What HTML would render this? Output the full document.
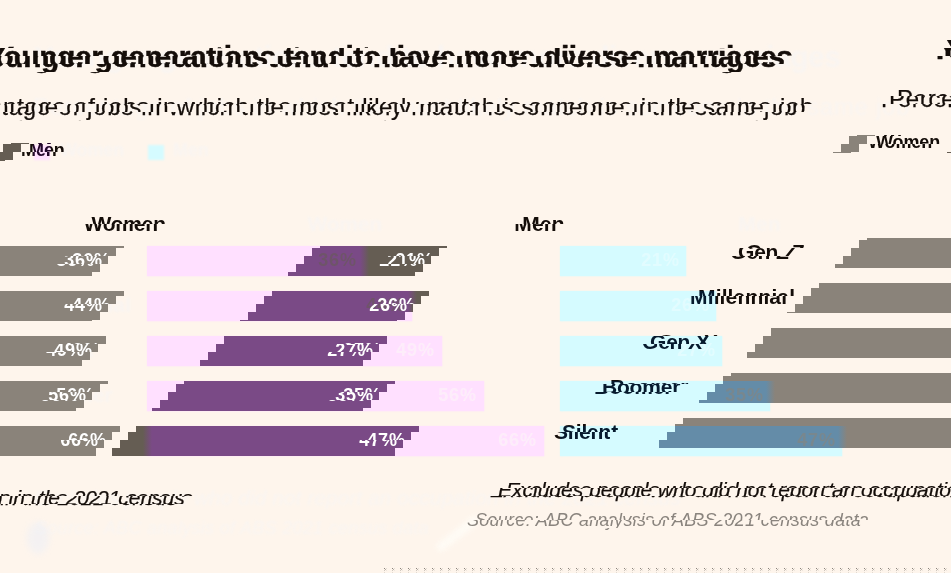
<!DOCTYPE html>
<html lang="en">
<head>
<meta charset="utf-8">
<title>Younger generations tend to have more diverse marriages</title>
<style>
html,body{margin:0;padding:0}
body{width:951px;height:573px;overflow:hidden;background:#fef5ec;position:relative;font-family:"Liberation Sans",Arial,sans-serif}
#chart{position:absolute;left:0;top:0;width:951px;height:573px;overflow:hidden}
#chart div{position:absolute}
.c{overflow:hidden}
.c span,.g{position:absolute;white-space:nowrap;display:block}
</style>
</head>
<body>
<div id="chart">
<!-- chroma plane (not displaced) -->
<div style="left:34px;top:144.5px;width:16px;height:15px;background:#ffe0ff;filter:blur(1px)"></div>
<div style="left:148px;top:144.5px;width:16px;height:15px;background:#d5fbff;filter:blur(1px)"></div>
<div style="left:147px;top:246.2px;width:217px;height:29.4px;background:#ffe0ff;box-shadow:0 0 1.5px .5px #ffe0ff"></div>
<div style="left:560px;top:246.2px;width:126px;height:29.4px;background:#d5fbff;box-shadow:0 0 1.5px .5px #d5fbff"></div>
<div style="left:147px;top:291.2px;width:265px;height:29.4px;background:#ffe0ff;box-shadow:0 0 1.5px .5px #ffe0ff"></div>
<div style="left:560px;top:291.2px;width:156px;height:29.4px;background:#d5fbff;box-shadow:0 0 1.5px .5px #d5fbff"></div>
<div style="left:147px;top:336.2px;width:295px;height:29.4px;background:#ffe0ff;box-shadow:0 0 1.5px .5px #ffe0ff"></div>
<div style="left:560px;top:336.2px;width:162px;height:29.4px;background:#d5fbff;box-shadow:0 0 1.5px .5px #d5fbff"></div>
<div style="left:147px;top:381.2px;width:337px;height:29.4px;background:#ffe0ff;box-shadow:0 0 1.5px .5px #ffe0ff"></div>
<div style="left:560px;top:381.2px;width:210px;height:29.4px;background:#d5fbff;box-shadow:0 0 1.5px .5px #d5fbff"></div>
<div style="left:147px;top:426.2px;width:397px;height:29.4px;background:#ffe0ff;box-shadow:0 0 1.5px .5px #ffe0ff"></div>
<div style="left:560px;top:426.2px;width:282px;height:29.4px;background:#d5fbff;box-shadow:0 0 1.5px .5px #d5fbff"></div>
<div class="g" style="left:318.17px;top:247.56px;line-height:24px;height:24px;font-size:18px;color:#fdf6f8;font-weight:bold;letter-spacing:0.9px;opacity:.62;filter:blur(.7px);">36%</div>
<div class="g" style="left:641.17px;top:247.56px;line-height:24px;height:24px;font-size:18px;color:#f6feff;font-weight:bold;letter-spacing:0.9px;opacity:.4;filter:blur(.7px);">21%</div>
<div class="g" style="left:366.17px;top:292.56px;line-height:24px;height:24px;font-size:18px;color:#fdf6f8;font-weight:bold;letter-spacing:0.9px;opacity:.62;filter:blur(.7px);">44%</div>
<div class="g" style="left:671.17px;top:292.56px;line-height:24px;height:24px;font-size:18px;color:#f6feff;font-weight:bold;letter-spacing:0.9px;opacity:.4;filter:blur(.7px);">26%</div>
<div class="g" style="left:396.17px;top:337.56px;line-height:24px;height:24px;font-size:18px;color:#fdf6f8;font-weight:bold;letter-spacing:0.9px;opacity:.62;filter:blur(.7px);">49%</div>
<div class="g" style="left:677.17px;top:337.56px;line-height:24px;height:24px;font-size:18px;color:#f6feff;font-weight:bold;letter-spacing:0.9px;opacity:.4;filter:blur(.7px);">27%</div>
<div class="g" style="left:438.17px;top:382.56px;line-height:24px;height:24px;font-size:18px;color:#fdf6f8;font-weight:bold;letter-spacing:0.9px;opacity:.62;filter:blur(.7px);">56%</div>
<div class="g" style="left:725.17px;top:382.56px;line-height:24px;height:24px;font-size:18px;color:#f6feff;font-weight:bold;letter-spacing:0.9px;opacity:.4;filter:blur(.7px);">35%</div>
<div class="g" style="left:498.17px;top:427.56px;line-height:24px;height:24px;font-size:18px;color:#fdf6f8;font-weight:bold;letter-spacing:0.9px;opacity:.62;filter:blur(.7px);">66%</div>
<div class="g" style="left:797.17px;top:427.56px;line-height:24px;height:24px;font-size:18px;color:#f6feff;font-weight:bold;letter-spacing:0.9px;opacity:.4;filter:blur(.7px);">47%</div>
<div class="g" style="left:34px;top:246.02px;line-height:28px;height:28px;font-size:21px;color:#eef5ff;font-weight:bold;letter-spacing:-0.2px;opacity:.3;filter:blur(1.2px);">Gen Z</div>
<div class="g" style="left:34px;top:291.02px;line-height:28px;height:28px;font-size:21px;color:#eef5ff;font-weight:bold;letter-spacing:0.15px;opacity:.3;filter:blur(1.2px);">Millennial</div>
<div class="g" style="left:34px;top:336.02px;line-height:28px;height:28px;font-size:21px;color:#eef5ff;font-weight:bold;letter-spacing:-0.2px;opacity:.3;filter:blur(1.2px);">Gen X</div>
<div class="g" style="left:34px;top:381.02px;line-height:28px;height:28px;font-size:21px;color:#eef5ff;font-weight:bold;letter-spacing:-0.2px;opacity:.3;filter:blur(1.2px);">Boomer</div>
<div class="g" style="left:34px;top:426.02px;line-height:28px;height:28px;font-size:21px;color:#eef5ff;font-weight:bold;letter-spacing:-0.2px;opacity:.3;filter:blur(1.2px);">Silent</div>
<div class="g" style="left:34px;top:36.7px;line-height:39px;height:39px;font-size:30px;color:#eef5ff;font-weight:bold;letter-spacing:-0.42px;opacity:.3;filter:blur(1.2px);">Younger generations tend to have more diverse marriages</div>
<div class="g" style="left:33px;top:91.28px;line-height:32px;height:32px;font-size:24px;color:#eef5ff;letter-spacing:0.71px;opacity:.3;filter:blur(1.2px);">Percentage of jobs in which the most likely match is someone in the same job</div>
<div class="g" style="left:60px;top:138.36px;line-height:24px;height:24px;font-size:18px;color:#eef5ff;font-weight:bold;letter-spacing:-0.1px;opacity:.3;filter:blur(1.2px);">Women</div>
<div class="g" style="left:173px;top:138.36px;line-height:24px;height:24px;font-size:18px;color:#eef5ff;font-weight:bold;letter-spacing:-0.1px;opacity:.3;filter:blur(1.2px);">Men</div>
<div class="g" style="left:307.5px;top:209.52px;line-height:28px;height:28px;font-size:21px;color:#eef5ff;font-weight:bold;letter-spacing:-0.2px;opacity:.3;filter:blur(1.2px);">Women</div>
<div class="g" style="left:738.3px;top:209.52px;line-height:28px;height:28px;font-size:21px;color:#eef5ff;font-weight:bold;letter-spacing:0.1px;opacity:.3;filter:blur(1.2px);">Men</div>
<div class="g" style="left:34px;top:484.12px;line-height:28px;height:28px;font-size:21px;color:#eef5ff;font-style:italic;opacity:.3;filter:blur(1.2px);">Excludes people who did not report an occupation in the 2021 census</div>
<div class="g" style="left:35px;top:515.96px;line-height:24px;height:24px;font-size:18px;color:#eef5ff;font-style:italic;letter-spacing:0.3px;opacity:.3;filter:blur(1.2px);">Source: ABC analysis of ABS 2021 census data</div>
<div style="left:27px;top:522px;width:22px;height:32px;border-radius:50%;background:#e6edfb;opacity:.4;filter:blur(3px)"></div>
<div style="left:432px;top:529px;width:52px;height:9px;border-radius:5px;background:#fffdf8;opacity:.8;filter:blur(2.5px);transform:rotate(-38deg)"></div>
<!-- luma plane, displaced one 8px block per 8px band -->
<div style="left:857px;top:135px;width:18px;height:1px;background:#8a837a"></div>
<div style="left:849px;top:136px;width:18px;height:8px;background:#8a837a"></div>
<div style="left:841px;top:144px;width:18px;height:8px;background:#8a837a"></div>
<div style="left:833px;top:152px;width:18px;height:0.5px;background:#8a837a"></div>
<div style="left:11px;top:143px;width:18px;height:1px;background:#655d53"></div>
<div style="left:3px;top:144px;width:18px;height:8px;background:#655d53"></div>
<div style="left:0px;top:152px;width:13px;height:8px;background:#655d53"></div>
<div style="left:0px;top:160px;width:5px;height:0.5px;background:#655d53"></div>
<div style="left:947px;top:152px;width:4px;height:0.5px;background:#655d53"></div>
<div style="left:0px;top:246.2px;width:124px;height:1.8px;background:#8a837a"></div>
<div style="left:867px;top:238.2px;width:84px;height:1.8px;background:#8a837a"></div>
<div style="left:0px;top:248px;width:116px;height:8px;background:#8a837a"></div>
<div style="left:859px;top:240px;width:92px;height:8px;background:#8a837a"></div>
<div style="left:0px;top:256px;width:108px;height:8px;background:#8a837a"></div>
<div style="left:851px;top:248px;width:100px;height:8px;background:#8a837a"></div>
<div style="left:0px;top:264px;width:100px;height:8px;background:#8a837a"></div>
<div style="left:843px;top:256px;width:108px;height:8px;background:#8a837a"></div>
<div style="left:0px;top:272px;width:92px;height:3.6px;background:#8a837a"></div>
<div style="left:835px;top:264px;width:116px;height:3.6px;background:#8a837a"></div>
<div style="left:320px;top:246.2px;width:44px;height:1.8px;background:#7a4a86"></div>
<div style="left:364px;top:246.2px;width:83px;height:1.8px;background:#655d53"></div>
<div style="left:359.5px;top:246.2px;width:9px;height:1.8px;background:linear-gradient(90deg,#7a4a86,#655d53)"></div>
<div style="left:312px;top:248px;width:52px;height:8px;background:#7a4a86"></div>
<div style="left:364px;top:248px;width:75px;height:8px;background:#655d53"></div>
<div style="left:359.5px;top:248px;width:9px;height:8px;background:linear-gradient(90deg,#7a4a86,#655d53)"></div>
<div style="left:304px;top:256px;width:60px;height:8px;background:#7a4a86"></div>
<div style="left:364px;top:256px;width:67px;height:8px;background:#655d53"></div>
<div style="left:359.5px;top:256px;width:9px;height:8px;background:linear-gradient(90deg,#7a4a86,#655d53)"></div>
<div style="left:296px;top:264px;width:68px;height:8px;background:#7a4a86"></div>
<div style="left:364px;top:264px;width:59px;height:8px;background:#655d53"></div>
<div style="left:359.5px;top:264px;width:9px;height:8px;background:linear-gradient(90deg,#7a4a86,#655d53)"></div>
<div style="left:288px;top:272px;width:76px;height:3.6px;background:#7a4a86"></div>
<div style="left:364px;top:272px;width:51px;height:3.6px;background:#655d53"></div>
<div style="left:359.5px;top:272px;width:9px;height:3.6px;background:linear-gradient(90deg,#7a4a86,#655d53)"></div>
<div style="left:0px;top:291.2px;width:124px;height:4.8px;background:#8a837a"></div>
<div style="left:819px;top:283.2px;width:132px;height:4.8px;background:#8a837a"></div>
<div style="left:0px;top:296px;width:116px;height:8px;background:#8a837a"></div>
<div style="left:811px;top:288px;width:140px;height:8px;background:#8a837a"></div>
<div style="left:0px;top:304px;width:108px;height:8px;background:#8a837a"></div>
<div style="left:803px;top:296px;width:148px;height:8px;background:#8a837a"></div>
<div style="left:0px;top:312px;width:100px;height:8px;background:#8a837a"></div>
<div style="left:795px;top:304px;width:156px;height:8px;background:#8a837a"></div>
<div style="left:0px;top:320px;width:92px;height:0.6px;background:#8a837a"></div>
<div style="left:787px;top:312px;width:164px;height:0.6px;background:#8a837a"></div>
<div style="left:272px;top:291.2px;width:140px;height:4.8px;background:#7a4a86"></div>
<div style="left:412px;top:291.2px;width:17px;height:4.8px;background:#655d53"></div>
<div style="left:407.5px;top:291.2px;width:9px;height:4.8px;background:linear-gradient(90deg,#7a4a86,#655d53)"></div>
<div style="left:264px;top:296px;width:148px;height:8px;background:#7a4a86"></div>
<div style="left:412px;top:296px;width:9px;height:8px;background:#655d53"></div>
<div style="left:407.5px;top:296px;width:9px;height:8px;background:linear-gradient(90deg,#7a4a86,#655d53)"></div>
<div style="left:256px;top:304px;width:156px;height:8px;background:#7a4a86"></div>
<div style="left:412px;top:304px;width:1px;height:8px;background:#655d53"></div>
<div style="left:407.5px;top:304px;width:5.5px;height:8px;background:linear-gradient(90deg,#7a4a86,#655d53)"></div>
<div style="left:248px;top:312px;width:157px;height:8px;background:#7a4a86"></div>
<div style="left:240px;top:320px;width:157px;height:0.6px;background:#7a4a86"></div>
<div style="left:0px;top:336.2px;width:106px;height:7.8px;background:#8a837a"></div>
<div style="left:771px;top:328.2px;width:180px;height:7.8px;background:#8a837a"></div>
<div style="left:0px;top:344px;width:98px;height:8px;background:#8a837a"></div>
<div style="left:763px;top:336px;width:188px;height:8px;background:#8a837a"></div>
<div style="left:0px;top:352px;width:90px;height:8px;background:#8a837a"></div>
<div style="left:755px;top:344px;width:196px;height:8px;background:#8a837a"></div>
<div style="left:0px;top:360px;width:82px;height:5.6px;background:#8a837a"></div>
<div style="left:747px;top:352px;width:204px;height:5.6px;background:#8a837a"></div>
<div style="left:224px;top:336.2px;width:163px;height:7.8px;background:#7a4a86"></div>
<div style="left:216px;top:344px;width:163px;height:8px;background:#7a4a86"></div>
<div style="left:208px;top:352px;width:163px;height:8px;background:#7a4a86"></div>
<div style="left:200px;top:360px;width:163px;height:5.6px;background:#7a4a86"></div>
<div style="left:0px;top:381.2px;width:108px;height:2.8px;background:#8a837a"></div>
<div style="left:731px;top:373.2px;width:220px;height:2.8px;background:#8a837a"></div>
<div style="left:0px;top:384px;width:100px;height:8px;background:#8a837a"></div>
<div style="left:723px;top:376px;width:228px;height:5.2px;background:#8a837a"></div>
<div style="left:723px;top:381.2px;width:47px;height:2.8px;background:#648ca8"></div>
<div style="left:770px;top:381.2px;width:181px;height:2.8px;background:#8a837a"></div>
<div style="left:765.5px;top:381.2px;width:9px;height:2.8px;background:linear-gradient(90deg,#648ca8,#8a837a)"></div>
<div style="left:0px;top:392px;width:92px;height:8px;background:#8a837a"></div>
<div style="left:715px;top:384px;width:55px;height:8px;background:#648ca8"></div>
<div style="left:770px;top:384px;width:181px;height:8px;background:#8a837a"></div>
<div style="left:765.5px;top:384px;width:9px;height:8px;background:linear-gradient(90deg,#648ca8,#8a837a)"></div>
<div style="left:0px;top:400px;width:84px;height:8px;background:#8a837a"></div>
<div style="left:707px;top:392px;width:63px;height:8px;background:#648ca8"></div>
<div style="left:770px;top:392px;width:181px;height:8px;background:#8a837a"></div>
<div style="left:765.5px;top:392px;width:9px;height:8px;background:linear-gradient(90deg,#648ca8,#8a837a)"></div>
<div style="left:0px;top:408px;width:76px;height:2.6px;background:#8a837a"></div>
<div style="left:699px;top:400px;width:71px;height:2.6px;background:#648ca8"></div>
<div style="left:770px;top:400px;width:181px;height:2.6px;background:#8a837a"></div>
<div style="left:765.5px;top:400px;width:9px;height:2.6px;background:linear-gradient(90deg,#648ca8,#8a837a)"></div>
<div style="left:184px;top:381.2px;width:211px;height:2.8px;background:#7a4a86"></div>
<div style="left:176px;top:384px;width:211px;height:8px;background:#7a4a86"></div>
<div style="left:168px;top:392px;width:211px;height:8px;background:#7a4a86"></div>
<div style="left:160px;top:400px;width:211px;height:8px;background:#7a4a86"></div>
<div style="left:152px;top:408px;width:211px;height:2.6px;background:#7a4a86"></div>
<div style="left:0px;top:426.2px;width:120px;height:5.8px;background:#8a837a"></div>
<div style="left:683px;top:418.2px;width:268px;height:5.8px;background:#8a837a"></div>
<div style="left:0px;top:432px;width:112px;height:8px;background:#8a837a"></div>
<div style="left:675px;top:424px;width:276px;height:2.2px;background:#8a837a"></div>
<div style="left:675px;top:426.2px;width:167px;height:5.8px;background:#648ca8"></div>
<div style="left:842px;top:426.2px;width:109px;height:5.8px;background:#8a837a"></div>
<div style="left:837.5px;top:426.2px;width:9px;height:5.8px;background:linear-gradient(90deg,#648ca8,#8a837a)"></div>
<div style="left:0px;top:440px;width:104px;height:8px;background:#8a837a"></div>
<div style="left:667px;top:432px;width:175px;height:8px;background:#648ca8"></div>
<div style="left:842px;top:432px;width:109px;height:8px;background:#8a837a"></div>
<div style="left:837.5px;top:432px;width:9px;height:8px;background:linear-gradient(90deg,#648ca8,#8a837a)"></div>
<div style="left:0px;top:448px;width:96px;height:7.6px;background:#8a837a"></div>
<div style="left:659px;top:440px;width:183px;height:7.6px;background:#648ca8"></div>
<div style="left:842px;top:440px;width:109px;height:7.6px;background:#8a837a"></div>
<div style="left:837.5px;top:440px;width:9px;height:7.6px;background:linear-gradient(90deg,#648ca8,#8a837a)"></div>
<div style="left:136px;top:426.2px;width:11px;height:5.8px;background:#655d53"></div>
<div style="left:147px;top:426.2px;width:272px;height:5.8px;background:#7a4a86"></div>
<div style="left:142.5px;top:426.2px;width:9px;height:5.8px;background:linear-gradient(90deg,#655d53,#7a4a86)"></div>
<div style="left:128px;top:432px;width:19px;height:8px;background:#655d53"></div>
<div style="left:147px;top:432px;width:264px;height:8px;background:#7a4a86"></div>
<div style="left:142.5px;top:432px;width:9px;height:8px;background:linear-gradient(90deg,#655d53,#7a4a86)"></div>
<div style="left:120px;top:440px;width:27px;height:8px;background:#655d53"></div>
<div style="left:147px;top:440px;width:256px;height:8px;background:#7a4a86"></div>
<div style="left:142.5px;top:440px;width:9px;height:8px;background:linear-gradient(90deg,#655d53,#7a4a86)"></div>
<div style="left:112px;top:448px;width:35px;height:7.6px;background:#655d53"></div>
<div style="left:147px;top:448px;width:248px;height:7.6px;background:#7a4a86"></div>
<div style="left:142.5px;top:448px;width:9px;height:7.6px;background:linear-gradient(90deg,#655d53,#7a4a86)"></div>
<div class="c" style="left:317.17px;top:251.76px;width:39.83px;height:4.24px"><span style="left:1px;top:-4.2px;line-height:24px;height:24px;font-size:18px;color:#655d53;font-weight:bold;letter-spacing:0.9px;opacity:.55;filter:blur(.6px);">36%</span></div>
<div class="c" style="left:317.17px;top:256px;width:39.83px;height:8px"><span style="left:1px;top:-8.44px;line-height:24px;height:24px;font-size:18px;color:#655d53;font-weight:bold;letter-spacing:0.9px;opacity:.55;filter:blur(.6px);">36%</span></div>
<div class="c" style="left:317.17px;top:264px;width:39.83px;height:2.7px"><span style="left:1px;top:-16.44px;line-height:24px;height:24px;font-size:18px;color:#655d53;font-weight:bold;letter-spacing:0.9px;opacity:.55;filter:blur(.6px);">36%</span></div>
<div class="c" style="left:365.17px;top:296.76px;width:39.83px;height:7.24px"><span style="left:1px;top:-4.2px;line-height:24px;height:24px;font-size:18px;color:#655d53;font-weight:bold;letter-spacing:0.9px;opacity:.55;filter:blur(.6px);">44%</span></div>
<div class="c" style="left:365.17px;top:304px;width:39.83px;height:7.7px"><span style="left:1px;top:-11.44px;line-height:24px;height:24px;font-size:18px;color:#655d53;font-weight:bold;letter-spacing:0.9px;opacity:.55;filter:blur(.6px);">44%</span></div>
<div class="c" style="left:724.17px;top:386.76px;width:39.83px;height:5.24px"><span style="left:1px;top:-4.2px;line-height:24px;height:24px;font-size:18px;color:#8a837a;font-weight:bold;letter-spacing:0.9px;opacity:.55;filter:blur(.6px);">35%</span></div>
<div class="c" style="left:724.17px;top:392px;width:39.83px;height:8px"><span style="left:1px;top:-9.44px;line-height:24px;height:24px;font-size:18px;color:#8a837a;font-weight:bold;letter-spacing:0.9px;opacity:.55;filter:blur(.6px);">35%</span></div>
<div class="c" style="left:724.17px;top:400px;width:39.83px;height:1.7px"><span style="left:1px;top:-17.44px;line-height:24px;height:24px;font-size:18px;color:#8a837a;font-weight:bold;letter-spacing:0.9px;opacity:.55;filter:blur(.6px);">35%</span></div>
<div class="c" style="left:796.17px;top:432px;width:39.83px;height:8px"><span style="left:1px;top:-4.44px;line-height:24px;height:24px;font-size:18px;color:#8a837a;font-weight:bold;letter-spacing:0.9px;opacity:.55;filter:blur(.6px);">47%</span></div>
<div class="c" style="left:796.17px;top:440px;width:39.83px;height:6.7px"><span style="left:1px;top:-12.44px;line-height:24px;height:24px;font-size:18px;color:#8a837a;font-weight:bold;letter-spacing:0.9px;opacity:.55;filter:blur(.6px);">47%</span></div>
<div class="c" style="left:743px;top:242.5px;width:64.72px;height:5.5px"><span style="left:3px;top:-4.48px;line-height:28px;height:28px;font-size:21px;color:#140d09;font-weight:bold;letter-spacing:-0.2px;">Gen Z</span></div>
<div class="c" style="left:735px;top:248px;width:64.72px;height:8px"><span style="left:3px;top:-9.98px;line-height:28px;height:28px;font-size:21px;color:#140d09;font-weight:bold;letter-spacing:-0.2px;">Gen Z</span></div>
<div class="c" style="left:727px;top:256px;width:64.72px;height:8px"><span style="left:3px;top:-17.98px;line-height:28px;height:28px;font-size:21px;color:#140d09;font-weight:bold;letter-spacing:-0.2px;">Gen Z</span></div>
<div class="c" style="left:719px;top:264px;width:64.72px;height:0.34px"><span style="left:3px;top:-25.98px;line-height:28px;height:28px;font-size:21px;color:#140d09;font-weight:bold;letter-spacing:-0.2px;">Gen Z</span></div>
<div class="c" style="left:69.17px;top:251.4px;width:43.83px;height:4.6px"><span style="left:3px;top:-3.84px;line-height:24px;height:24px;font-size:18px;color:#fff;font-weight:bold;letter-spacing:0.9px;">36%</span></div>
<div class="c" style="left:61.17px;top:256px;width:43.83px;height:8px"><span style="left:3px;top:-8.44px;line-height:24px;height:24px;font-size:18px;color:#fff;font-weight:bold;letter-spacing:0.9px;">36%</span></div>
<div class="c" style="left:53.17px;top:264px;width:43.83px;height:6.12px"><span style="left:3px;top:-16.44px;line-height:24px;height:24px;font-size:18px;color:#fff;font-weight:bold;letter-spacing:0.9px;">36%</span></div>
<div class="c" style="left:392.17px;top:251.4px;width:43.83px;height:4.6px"><span style="left:3px;top:-3.84px;line-height:24px;height:24px;font-size:18px;color:#fff;font-weight:bold;letter-spacing:0.9px;">21%</span></div>
<div class="c" style="left:384.17px;top:256px;width:43.83px;height:8px"><span style="left:3px;top:-8.44px;line-height:24px;height:24px;font-size:18px;color:#fff;font-weight:bold;letter-spacing:0.9px;">21%</span></div>
<div class="c" style="left:376.17px;top:264px;width:43.83px;height:6.12px"><span style="left:3px;top:-16.44px;line-height:24px;height:24px;font-size:18px;color:#fff;font-weight:bold;letter-spacing:0.9px;">21%</span></div>
<div class="c" style="left:703px;top:287.5px;width:103.04px;height:0.5px"><span style="left:3px;top:-4.48px;line-height:28px;height:28px;font-size:21px;color:#140d09;font-weight:bold;letter-spacing:0.15px;">Millennial</span></div>
<div class="c" style="left:695px;top:288px;width:103.04px;height:3.2px"><span style="left:3px;top:-4.98px;line-height:28px;height:28px;font-size:21px;color:#140d09;font-weight:bold;letter-spacing:0.15px;">Millennial</span></div>
<div class="c" style="left:695px;top:291.2px;width:21px;height:4.8px"><span style="left:3px;top:-8.18px;line-height:28px;height:28px;font-size:21px;color:#061a2e;font-weight:bold;letter-spacing:0.15px;">Millennial</span></div>
<div class="c" style="left:716px;top:291.2px;width:82.04px;height:4.8px"><span style="left:-18px;top:-8.18px;line-height:28px;height:28px;font-size:21px;color:#140d09;font-weight:bold;letter-spacing:0.15px;">Millennial</span></div>
<div class="c" style="left:687px;top:296px;width:29px;height:8px"><span style="left:3px;top:-12.98px;line-height:28px;height:28px;font-size:21px;color:#061a2e;font-weight:bold;letter-spacing:0.15px;">Millennial</span></div>
<div class="c" style="left:716px;top:296px;width:74.04px;height:8px"><span style="left:-26px;top:-12.98px;line-height:28px;height:28px;font-size:21px;color:#140d09;font-weight:bold;letter-spacing:0.15px;">Millennial</span></div>
<div class="c" style="left:679px;top:304px;width:37px;height:5.34px"><span style="left:3px;top:-20.98px;line-height:28px;height:28px;font-size:21px;color:#061a2e;font-weight:bold;letter-spacing:0.15px;">Millennial</span></div>
<div class="c" style="left:716px;top:304px;width:66.04px;height:5.34px"><span style="left:-34px;top:-20.98px;line-height:28px;height:28px;font-size:21px;color:#140d09;font-weight:bold;letter-spacing:0.15px;">Millennial</span></div>
<div class="c" style="left:69.17px;top:296.4px;width:43.83px;height:7.6px"><span style="left:3px;top:-3.84px;line-height:24px;height:24px;font-size:18px;color:#fff;font-weight:bold;letter-spacing:0.9px;">44%</span></div>
<div class="c" style="left:61.17px;top:304px;width:43.83px;height:8px"><span style="left:3px;top:-11.44px;line-height:24px;height:24px;font-size:18px;color:#fff;font-weight:bold;letter-spacing:0.9px;">44%</span></div>
<div class="c" style="left:53.17px;top:312px;width:43.83px;height:3.12px"><span style="left:3px;top:-19.44px;line-height:24px;height:24px;font-size:18px;color:#fff;font-weight:bold;letter-spacing:0.9px;">44%</span></div>
<div class="c" style="left:374.17px;top:296.4px;width:37.83px;height:7.6px"><span style="left:3px;top:-3.84px;line-height:24px;height:24px;font-size:18px;color:#fff;font-weight:bold;letter-spacing:0.9px;">26%</span></div>
<div class="c" style="left:412px;top:296.4px;width:6px;height:7.6px"><span style="left:-34.83px;top:-3.84px;line-height:24px;height:24px;font-size:18px;color:#fff;font-weight:bold;letter-spacing:0.9px;">26%</span></div>
<div class="c" style="left:366.17px;top:304px;width:43.83px;height:8px"><span style="left:3px;top:-11.44px;line-height:24px;height:24px;font-size:18px;color:#fff;font-weight:bold;letter-spacing:0.9px;">26%</span></div>
<div class="c" style="left:358.17px;top:312px;width:43.83px;height:3.12px"><span style="left:3px;top:-19.44px;line-height:24px;height:24px;font-size:18px;color:#fff;font-weight:bold;letter-spacing:0.9px;">26%</span></div>
<div class="c" style="left:655px;top:332.5px;width:65.89px;height:3.5px"><span style="left:3px;top:-4.48px;line-height:28px;height:28px;font-size:21px;color:#140d09;font-weight:bold;letter-spacing:-0.2px;">Gen X</span></div>
<div class="c" style="left:647px;top:336.2px;width:65.89px;height:7.8px"><span style="left:3px;top:-8.18px;line-height:28px;height:28px;font-size:21px;color:#061a2e;font-weight:bold;letter-spacing:-0.2px;">Gen X</span></div>
<div class="c" style="left:639px;top:344px;width:65.89px;height:8px"><span style="left:3px;top:-15.98px;line-height:28px;height:28px;font-size:21px;color:#061a2e;font-weight:bold;letter-spacing:-0.2px;">Gen X</span></div>
<div class="c" style="left:631px;top:352px;width:65.89px;height:2.34px"><span style="left:3px;top:-23.98px;line-height:28px;height:28px;font-size:21px;color:#061a2e;font-weight:bold;letter-spacing:-0.2px;">Gen X</span></div>
<div class="c" style="left:59.17px;top:341.4px;width:43.83px;height:2.6px"><span style="left:3px;top:-3.84px;line-height:24px;height:24px;font-size:18px;color:#fff;font-weight:bold;letter-spacing:0.9px;">49%</span></div>
<div class="c" style="left:51.17px;top:344px;width:43.83px;height:8px"><span style="left:3px;top:-6.44px;line-height:24px;height:24px;font-size:18px;color:#fff;font-weight:bold;letter-spacing:0.9px;">49%</span></div>
<div class="c" style="left:43.17px;top:352px;width:43.83px;height:8px"><span style="left:3px;top:-14.44px;line-height:24px;height:24px;font-size:18px;color:#fff;font-weight:bold;letter-spacing:0.9px;">49%</span></div>
<div class="c" style="left:340.17px;top:341.4px;width:43.83px;height:2.6px"><span style="left:3px;top:-3.84px;line-height:24px;height:24px;font-size:18px;color:#fff;font-weight:bold;letter-spacing:0.9px;">27%</span></div>
<div class="c" style="left:332.17px;top:344px;width:43.83px;height:8px"><span style="left:3px;top:-6.44px;line-height:24px;height:24px;font-size:18px;color:#fff;font-weight:bold;letter-spacing:0.9px;">27%</span></div>
<div class="c" style="left:324.17px;top:352px;width:43.83px;height:8px"><span style="left:3px;top:-14.44px;line-height:24px;height:24px;font-size:18px;color:#fff;font-weight:bold;letter-spacing:0.9px;">27%</span></div>
<div class="c" style="left:607px;top:377.5px;width:84.36px;height:3.7px"><span style="left:3px;top:-4.48px;line-height:28px;height:28px;font-size:21px;color:#140d09;font-weight:bold;letter-spacing:-0.2px;">Boomer</span></div>
<div class="c" style="left:607px;top:381.2px;width:84.36px;height:2.8px"><span style="left:3px;top:-8.18px;line-height:28px;height:28px;font-size:21px;color:#061a2e;font-weight:bold;letter-spacing:-0.2px;">Boomer</span></div>
<div class="c" style="left:599px;top:384px;width:84.36px;height:8px"><span style="left:3px;top:-10.98px;line-height:28px;height:28px;font-size:21px;color:#061a2e;font-weight:bold;letter-spacing:-0.2px;">Boomer</span></div>
<div class="c" style="left:591px;top:392px;width:84.36px;height:7.34px"><span style="left:3px;top:-18.98px;line-height:28px;height:28px;font-size:21px;color:#061a2e;font-weight:bold;letter-spacing:-0.2px;">Boomer</span></div>
<div class="c" style="left:53.17px;top:386.4px;width:43.83px;height:5.6px"><span style="left:3px;top:-3.84px;line-height:24px;height:24px;font-size:18px;color:#fff;font-weight:bold;letter-spacing:0.9px;">56%</span></div>
<div class="c" style="left:45.17px;top:392px;width:43.83px;height:8px"><span style="left:3px;top:-9.44px;line-height:24px;height:24px;font-size:18px;color:#fff;font-weight:bold;letter-spacing:0.9px;">56%</span></div>
<div class="c" style="left:37.17px;top:400px;width:43.83px;height:5.12px"><span style="left:3px;top:-17.44px;line-height:24px;height:24px;font-size:18px;color:#fff;font-weight:bold;letter-spacing:0.9px;">56%</span></div>
<div class="c" style="left:340.17px;top:386.4px;width:43.83px;height:5.6px"><span style="left:3px;top:-3.84px;line-height:24px;height:24px;font-size:18px;color:#fff;font-weight:bold;letter-spacing:0.9px;">35%</span></div>
<div class="c" style="left:332.17px;top:392px;width:43.83px;height:8px"><span style="left:3px;top:-9.44px;line-height:24px;height:24px;font-size:18px;color:#fff;font-weight:bold;letter-spacing:0.9px;">35%</span></div>
<div class="c" style="left:324.17px;top:400px;width:43.83px;height:5.12px"><span style="left:3px;top:-17.44px;line-height:24px;height:24px;font-size:18px;color:#fff;font-weight:bold;letter-spacing:0.9px;">35%</span></div>
<div class="c" style="left:567px;top:422.5px;width:62.18px;height:1.5px"><span style="left:3px;top:-4.48px;line-height:28px;height:28px;font-size:21px;color:#140d09;font-weight:bold;letter-spacing:-0.2px;">Silent</span></div>
<div class="c" style="left:559px;top:424px;width:62.18px;height:2.2px"><span style="left:3px;top:-5.98px;line-height:28px;height:28px;font-size:21px;color:#140d09;font-weight:bold;letter-spacing:-0.2px;">Silent</span></div>
<div class="c" style="left:559px;top:426.2px;width:1px;height:5.8px"><span style="left:3px;top:-8.18px;line-height:28px;height:28px;font-size:21px;color:#140d09;font-weight:bold;letter-spacing:-0.2px;">Silent</span></div>
<div class="c" style="left:560px;top:426.2px;width:61.18px;height:5.8px"><span style="left:2px;top:-8.18px;line-height:28px;height:28px;font-size:21px;color:#061a2e;font-weight:bold;letter-spacing:-0.2px;">Silent</span></div>
<div class="c" style="left:551px;top:432px;width:9px;height:8px"><span style="left:3px;top:-13.98px;line-height:28px;height:28px;font-size:21px;color:#140d09;font-weight:bold;letter-spacing:-0.2px;">Silent</span></div>
<div class="c" style="left:560px;top:432px;width:53.18px;height:8px"><span style="left:-6px;top:-13.98px;line-height:28px;height:28px;font-size:21px;color:#061a2e;font-weight:bold;letter-spacing:-0.2px;">Silent</span></div>
<div class="c" style="left:543px;top:440px;width:1px;height:4.34px"><span style="left:3px;top:-21.98px;line-height:28px;height:28px;font-size:21px;color:#22062a;font-weight:bold;letter-spacing:-0.2px;">Silent</span></div>
<div class="c" style="left:544px;top:440px;width:16px;height:4.34px"><span style="left:2px;top:-21.98px;line-height:28px;height:28px;font-size:21px;color:#140d09;font-weight:bold;letter-spacing:-0.2px;">Silent</span></div>
<div class="c" style="left:560px;top:440px;width:45.18px;height:4.34px"><span style="left:-14px;top:-21.98px;line-height:28px;height:28px;font-size:21px;color:#061a2e;font-weight:bold;letter-spacing:-0.2px;">Silent</span></div>
<div class="c" style="left:73.17px;top:431.4px;width:43.83px;height:0.6px"><span style="left:3px;top:-3.84px;line-height:24px;height:24px;font-size:18px;color:#fff;font-weight:bold;letter-spacing:0.9px;">66%</span></div>
<div class="c" style="left:65.17px;top:432px;width:43.83px;height:8px"><span style="left:3px;top:-4.44px;line-height:24px;height:24px;font-size:18px;color:#fff;font-weight:bold;letter-spacing:0.9px;">66%</span></div>
<div class="c" style="left:57.17px;top:440px;width:43.83px;height:8px"><span style="left:3px;top:-12.44px;line-height:24px;height:24px;font-size:18px;color:#fff;font-weight:bold;letter-spacing:0.9px;">66%</span></div>
<div class="c" style="left:49.17px;top:448px;width:43.83px;height:2.12px"><span style="left:3px;top:-20.44px;line-height:24px;height:24px;font-size:18px;color:#fff;font-weight:bold;letter-spacing:0.9px;">66%</span></div>
<div class="c" style="left:372.17px;top:431.4px;width:43.83px;height:0.6px"><span style="left:3px;top:-3.84px;line-height:24px;height:24px;font-size:18px;color:#fff;font-weight:bold;letter-spacing:0.9px;">47%</span></div>
<div class="c" style="left:364.17px;top:432px;width:43.83px;height:8px"><span style="left:3px;top:-4.44px;line-height:24px;height:24px;font-size:18px;color:#fff;font-weight:bold;letter-spacing:0.9px;">47%</span></div>
<div class="c" style="left:356.17px;top:440px;width:43.83px;height:8px"><span style="left:3px;top:-12.44px;line-height:24px;height:24px;font-size:18px;color:#fff;font-weight:bold;letter-spacing:0.9px;">47%</span></div>
<div class="c" style="left:348.17px;top:448px;width:43.83px;height:2.12px"><span style="left:3px;top:-20.44px;line-height:24px;height:24px;font-size:18px;color:#fff;font-weight:bold;letter-spacing:0.9px;">47%</span></div>
<div class="c" style="left:0px;top:42.6px;width:804.03px;height:5.4px"><span style="left:-6px;top:-5.9px;line-height:39px;height:39px;font-size:30px;color:#140d09;font-weight:bold;letter-spacing:-0.42px;-webkit-text-stroke:0.5px #140d09;">Younger generations tend to have more diverse marriages</span></div>
<div class="c" style="left:0px;top:48px;width:796.03px;height:8px"><span style="left:-14px;top:-11.3px;line-height:39px;height:39px;font-size:30px;color:#140d09;font-weight:bold;letter-spacing:-0.42px;-webkit-text-stroke:0.5px #140d09;">Younger generations tend to have more diverse marriages</span></div>
<div class="c" style="left:943px;top:40px;width:8px;height:8px"><span style="left:3px;top:-11.3px;line-height:39px;height:39px;font-size:30px;color:#140d09;font-weight:bold;letter-spacing:-0.42px;-webkit-text-stroke:0.5px #140d09;">Younger generations tend to have more diverse marriages</span></div>
<div class="c" style="left:0px;top:56px;width:788.03px;height:8px"><span style="left:-22px;top:-19.3px;line-height:39px;height:39px;font-size:30px;color:#140d09;font-weight:bold;letter-spacing:-0.42px;-webkit-text-stroke:0.5px #140d09;">Younger generations tend to have more diverse marriages</span></div>
<div class="c" style="left:935px;top:48px;width:16px;height:8px"><span style="left:3px;top:-19.3px;line-height:39px;height:39px;font-size:30px;color:#140d09;font-weight:bold;letter-spacing:-0.42px;-webkit-text-stroke:0.5px #140d09;">Younger generations tend to have more diverse marriages</span></div>
<div class="c" style="left:0px;top:64px;width:780.03px;height:8px"><span style="left:-30px;top:-27.3px;line-height:39px;height:39px;font-size:30px;color:#140d09;font-weight:bold;letter-spacing:-0.42px;-webkit-text-stroke:0.5px #140d09;">Younger generations tend to have more diverse marriages</span></div>
<div class="c" style="left:927px;top:56px;width:24px;height:8px"><span style="left:3px;top:-27.3px;line-height:39px;height:39px;font-size:30px;color:#140d09;font-weight:bold;letter-spacing:-0.42px;-webkit-text-stroke:0.5px #140d09;">Younger generations tend to have more diverse marriages</span></div>
<div class="c" style="left:0px;top:72px;width:772.03px;height:1.8px"><span style="left:-38px;top:-35.3px;line-height:39px;height:39px;font-size:30px;color:#140d09;font-weight:bold;letter-spacing:-0.42px;-webkit-text-stroke:0.5px #140d09;">Younger generations tend to have more diverse marriages</span></div>
<div class="c" style="left:919px;top:64px;width:32px;height:1.8px"><span style="left:3px;top:-35.3px;line-height:39px;height:39px;font-size:30px;color:#140d09;font-weight:bold;letter-spacing:-0.42px;-webkit-text-stroke:0.5px #140d09;">Younger generations tend to have more diverse marriages</span></div>
<div class="c" style="left:0px;top:96.4px;width:816.34px;height:7.6px"><span style="left:-63px;top:-5.12px;line-height:32px;height:32px;font-size:24px;color:#140d09;letter-spacing:0.71px;-webkit-text-stroke:0.25px #140d09;">Percentage of jobs in which the most likely match is someone in the same job</span></div>
<div class="c" style="left:894px;top:88.4px;width:57px;height:7.6px"><span style="left:3px;top:-5.12px;line-height:32px;height:32px;font-size:24px;color:#140d09;letter-spacing:0.71px;-webkit-text-stroke:0.25px #140d09;">Percentage of jobs in which the most likely match is someone in the same job</span></div>
<div class="c" style="left:0px;top:104px;width:808.34px;height:8px"><span style="left:-71px;top:-12.72px;line-height:32px;height:32px;font-size:24px;color:#140d09;letter-spacing:0.71px;-webkit-text-stroke:0.25px #140d09;">Percentage of jobs in which the most likely match is someone in the same job</span></div>
<div class="c" style="left:886px;top:96px;width:65px;height:8px"><span style="left:3px;top:-12.72px;line-height:32px;height:32px;font-size:24px;color:#140d09;letter-spacing:0.71px;-webkit-text-stroke:0.25px #140d09;">Percentage of jobs in which the most likely match is someone in the same job</span></div>
<div class="c" style="left:0px;top:112px;width:800.34px;height:8px"><span style="left:-79px;top:-20.72px;line-height:32px;height:32px;font-size:24px;color:#140d09;letter-spacing:0.71px;-webkit-text-stroke:0.25px #140d09;">Percentage of jobs in which the most likely match is someone in the same job</span></div>
<div class="c" style="left:878px;top:104px;width:73px;height:8px"><span style="left:3px;top:-20.72px;line-height:32px;height:32px;font-size:24px;color:#140d09;letter-spacing:0.71px;-webkit-text-stroke:0.25px #140d09;">Percentage of jobs in which the most likely match is someone in the same job</span></div>
<div class="c" style="left:0px;top:120px;width:792.34px;height:1.36px"><span style="left:-87px;top:-28.72px;line-height:32px;height:32px;font-size:24px;color:#140d09;letter-spacing:0.71px;-webkit-text-stroke:0.25px #140d09;">Percentage of jobs in which the most likely match is someone in the same job</span></div>
<div class="c" style="left:870px;top:112px;width:81px;height:1.36px"><span style="left:3px;top:-28.72px;line-height:32px;height:32px;font-size:24px;color:#140d09;letter-spacing:0.71px;-webkit-text-stroke:0.25px #140d09;">Percentage of jobs in which the most likely match is someone in the same job</span></div>
<div class="c" style="left:881px;top:134.2px;width:70px;height:1.8px"><span style="left:3px;top:-3.84px;line-height:24px;height:24px;font-size:18px;color:#140d09;font-weight:bold;letter-spacing:-0.1px;">Women</span></div>
<div class="c" style="left:873px;top:136px;width:70.27px;height:8px"><span style="left:3px;top:-5.64px;line-height:24px;height:24px;font-size:18px;color:#140d09;font-weight:bold;letter-spacing:-0.1px;">Women</span></div>
<div class="c" style="left:865px;top:144px;width:70.27px;height:8px"><span style="left:3px;top:-13.64px;line-height:24px;height:24px;font-size:18px;color:#140d09;font-weight:bold;letter-spacing:-0.1px;">Women</span></div>
<div class="c" style="left:857px;top:152px;width:70.27px;height:0.92px"><span style="left:3px;top:-21.64px;line-height:24px;height:24px;font-size:18px;color:#140d09;font-weight:bold;letter-spacing:-0.1px;">Women</span></div>
<div class="c" style="left:34px;top:142.2px;width:41.8px;height:0.8px"><span style="left:3px;top:-3.84px;line-height:24px;height:24px;font-size:18px;color:#140d09;font-weight:bold;letter-spacing:-0.1px;">Men</span></div>
<div class="c" style="left:34px;top:143px;width:17px;height:1px"><span style="left:3px;top:-4.64px;line-height:24px;height:24px;font-size:18px;color:#22062a;font-weight:bold;letter-spacing:-0.1px;">Men</span></div>
<div class="c" style="left:51px;top:143px;width:24.8px;height:1px"><span style="left:-14px;top:-4.64px;line-height:24px;height:24px;font-size:18px;color:#140d09;font-weight:bold;letter-spacing:-0.1px;">Men</span></div>
<div class="c" style="left:26px;top:144px;width:7px;height:8px"><span style="left:3px;top:-5.64px;line-height:24px;height:24px;font-size:18px;color:#140d09;font-weight:bold;letter-spacing:-0.1px;">Men</span></div>
<div class="c" style="left:33px;top:144px;width:18px;height:8px"><span style="left:-4px;top:-5.64px;line-height:24px;height:24px;font-size:18px;color:#22062a;font-weight:bold;letter-spacing:-0.1px;">Men</span></div>
<div class="c" style="left:51px;top:144px;width:16.8px;height:8px"><span style="left:-22px;top:-5.64px;line-height:24px;height:24px;font-size:18px;color:#140d09;font-weight:bold;letter-spacing:-0.1px;">Men</span></div>
<div class="c" style="left:18px;top:152px;width:15px;height:8px"><span style="left:3px;top:-13.64px;line-height:24px;height:24px;font-size:18px;color:#140d09;font-weight:bold;letter-spacing:-0.1px;">Men</span></div>
<div class="c" style="left:33px;top:152px;width:18px;height:8px"><span style="left:-12px;top:-13.64px;line-height:24px;height:24px;font-size:18px;color:#22062a;font-weight:bold;letter-spacing:-0.1px;">Men</span></div>
<div class="c" style="left:51px;top:152px;width:8.8px;height:8px"><span style="left:-30px;top:-13.64px;line-height:24px;height:24px;font-size:18px;color:#140d09;font-weight:bold;letter-spacing:-0.1px;">Men</span></div>
<div class="c" style="left:10px;top:160px;width:23px;height:0.5px"><span style="left:3px;top:-21.64px;line-height:24px;height:24px;font-size:18px;color:#140d09;font-weight:bold;letter-spacing:-0.1px;">Men</span></div>
<div class="c" style="left:33px;top:160px;width:18px;height:0.5px"><span style="left:-20px;top:-21.64px;line-height:24px;height:24px;font-size:18px;color:#22062a;font-weight:bold;letter-spacing:-0.1px;">Men</span></div>
<div class="c" style="left:51px;top:160px;width:0.8px;height:0.5px"><span style="left:-38px;top:-21.64px;line-height:24px;height:24px;font-size:18px;color:#140d09;font-weight:bold;letter-spacing:-0.1px;">Men</span></div>
<div class="c" style="left:10px;top:160.5px;width:41.8px;height:0.42px"><span style="left:3px;top:-22.14px;line-height:24px;height:24px;font-size:18px;color:#140d09;font-weight:bold;letter-spacing:-0.1px;">Men</span></div>
<div class="c" style="left:96.5px;top:214px;width:80.65px;height:2px"><span style="left:3px;top:-4.48px;line-height:28px;height:28px;font-size:21px;color:#140d09;font-weight:bold;letter-spacing:-0.2px;">Women</span></div>
<div class="c" style="left:88.5px;top:216px;width:80.65px;height:8px"><span style="left:3px;top:-6.48px;line-height:28px;height:28px;font-size:21px;color:#140d09;font-weight:bold;letter-spacing:-0.2px;">Women</span></div>
<div class="c" style="left:80.5px;top:224px;width:80.65px;height:8px"><span style="left:3px;top:-14.48px;line-height:28px;height:28px;font-size:21px;color:#140d09;font-weight:bold;letter-spacing:-0.2px;">Women</span></div>
<div class="c" style="left:72.5px;top:232px;width:80.65px;height:3.84px"><span style="left:3px;top:-22.48px;line-height:28px;height:28px;font-size:21px;color:#140d09;font-weight:bold;letter-spacing:-0.2px;">Women</span></div>
<div class="c" style="left:527.3px;top:214px;width:48.21px;height:2px"><span style="left:3px;top:-4.48px;line-height:28px;height:28px;font-size:21px;color:#140d09;font-weight:bold;letter-spacing:0.1px;">Men</span></div>
<div class="c" style="left:519.3px;top:216px;width:48.21px;height:8px"><span style="left:3px;top:-6.48px;line-height:28px;height:28px;font-size:21px;color:#140d09;font-weight:bold;letter-spacing:0.1px;">Men</span></div>
<div class="c" style="left:511.3px;top:224px;width:48.21px;height:8px"><span style="left:3px;top:-14.48px;line-height:28px;height:28px;font-size:21px;color:#140d09;font-weight:bold;letter-spacing:0.1px;">Men</span></div>
<div class="c" style="left:503.3px;top:232px;width:48.21px;height:3.84px"><span style="left:3px;top:-22.48px;line-height:28px;height:28px;font-size:21px;color:#140d09;font-weight:bold;letter-spacing:0.1px;">Men</span></div>
<div class="c" style="left:0px;top:488.6px;width:195.78px;height:7.4px"><span style="left:-454px;top:-4.48px;line-height:28px;height:28px;font-size:21px;color:#140d09;font-style:italic;-webkit-text-stroke:0.25px #140d09;">Excludes people who did not report an occupation in the 2021 census</span></div>
<div class="c" style="left:503px;top:480.6px;width:448px;height:7.4px"><span style="left:3px;top:-4.48px;line-height:28px;height:28px;font-size:21px;color:#140d09;font-style:italic;-webkit-text-stroke:0.25px #140d09;">Excludes people who did not report an occupation in the 2021 census</span></div>
<div class="c" style="left:0px;top:496px;width:187.78px;height:8px"><span style="left:-462px;top:-11.88px;line-height:28px;height:28px;font-size:21px;color:#140d09;font-style:italic;-webkit-text-stroke:0.25px #140d09;">Excludes people who did not report an occupation in the 2021 census</span></div>
<div class="c" style="left:495px;top:488px;width:456px;height:8px"><span style="left:3px;top:-11.88px;line-height:28px;height:28px;font-size:21px;color:#140d09;font-style:italic;-webkit-text-stroke:0.25px #140d09;">Excludes people who did not report an occupation in the 2021 census</span></div>
<div class="c" style="left:0px;top:504px;width:179.78px;height:6.44px"><span style="left:-470px;top:-19.88px;line-height:28px;height:28px;font-size:21px;color:#140d09;font-style:italic;-webkit-text-stroke:0.25px #140d09;">Excludes people who did not report an occupation in the 2021 census</span></div>
<div class="c" style="left:487px;top:496px;width:464px;height:6.44px"><span style="left:3px;top:-19.88px;line-height:28px;height:28px;font-size:21px;color:#140d09;font-style:italic;-webkit-text-stroke:0.25px #140d09;">Excludes people who did not report an occupation in the 2021 census</span></div>
<div class="c" style="left:472px;top:512px;width:399.79px;height:8px"><span style="left:3px;top:-4.04px;line-height:24px;height:24px;font-size:18px;color:#8a847e;font-style:italic;letter-spacing:0.3px;">Source: ABC analysis of ABS 2021 census data</span></div>
<div class="c" style="left:464px;top:520px;width:399.79px;height:8px"><span style="left:3px;top:-12.04px;line-height:24px;height:24px;font-size:18px;color:#8a847e;font-style:italic;letter-spacing:0.3px;">Source: ABC analysis of ABS 2021 census data</span></div>
<div class="c" style="left:456px;top:528px;width:399.79px;height:2.52px"><span style="left:3px;top:-20.04px;line-height:24px;height:24px;font-size:18px;color:#8a847e;font-style:italic;letter-spacing:0.3px;">Source: ABC analysis of ABS 2021 census data</span></div>
<div style="left:384px;top:568px;width:567px;height:5px;background:repeating-linear-gradient(90deg,#8a837b 0 1px,transparent 1px 2px,#e3dbd2 2px 3px,transparent 3px 8px) 0 0/100% 1px no-repeat,repeating-linear-gradient(90deg,transparent 0 1px,#b3aca4 1px 2px,transparent 2px 8px) 0 1px/100% 1px no-repeat,repeating-linear-gradient(90deg,#cfc7be 0 1px,transparent 1px 2px,#efe6dd 2px 3px,transparent 3px 8px) 0 2px/100% 1px no-repeat,repeating-linear-gradient(90deg,#e2dad1 0 1px,transparent 1px 8px) 0 4px/100% 1px no-repeat"></div>
</div>
</body>
</html>
